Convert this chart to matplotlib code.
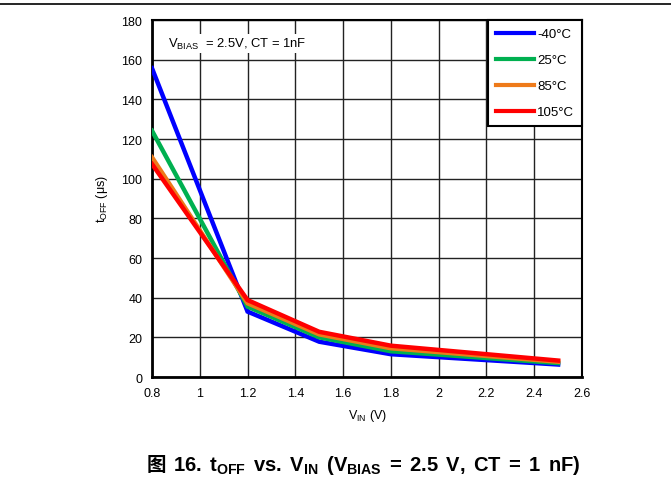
import matplotlib
matplotlib.use("Agg")
import matplotlib.pyplot as plt
from matplotlib.lines import Line2D

plt.rcParams['font.family'] = ['Liberation Sans', 'DejaVu Sans']
plt.rcParams['mathtext.fontset'] = 'custom'
plt.rcParams['mathtext.rm'] = 'Liberation Sans'
plt.rcParams['mathtext.bf'] = 'Liberation Sans:bold'
plt.rcParams['mathtext.it'] = 'Liberation Sans:italic'

# datos
v_in = [0.8, 1.2, 1.5, 1.8, 2.5]
t_menos40 = [155.7, 33.0, 17.8, 11.5, 6.3]
t_25 = [124.2, 35.5, 20.0, 13.0, 7.0]
t_85 = [110.8, 37.2, 21.5, 14.5, 7.7]
t_105 = [107.4, 38.8, 22.8, 15.8, 8.3]
etiquetas = ['-40°C', '25°C', '85°C', '105°C']
colores = ['#0000FF', '#00B050', '#EE7A1A', '#FF0000']
x_ticks = [0.8, 1.0, 1.2, 1.4, 1.6, 1.8, 2.0, 2.2, 2.4, 2.6]
y_ticks = [0, 20, 40, 60, 80, 100, 120, 140, 160, 180]

fig = plt.figure(figsize=(6.71, 4.81), dpi=100)
ax = fig.add_axes([0.2265, 0.2141, 0.6409, 0.7422])

series = [t_menos40, t_25, t_85, t_105]
for serie, etiqueta, color in zip(series, etiquetas, colores):
    ax.plot(v_in, serie, color=color, lw=3.2, label=etiqueta,
            solid_joinstyle='miter', zorder=3)

ax.set_xlim(0.8, 2.6)
ax.set_ylim(0, 180)
ax.set_xticks(x_ticks)
ax.set_yticks(y_ticks)
ax.set_xticklabels(['%g' % v for v in x_ticks])
ax.tick_params(length=0, labelsize=9, pad=7)
ax.grid(True, color='#222222', lw=1.0)
ax.set_axisbelow(True)
for lado in ['left', 'bottom']:
    ax.spines[lado].set_linewidth(2.0)
for lado in ['top', 'right']:
    ax.spines[lado].set_linewidth(1.5)

ax.set_xlabel(r'V$_{\mathrm{IN}}$ (V)', fontsize=9, labelpad=6)
ax.set_ylabel(r't$_{\mathrm{OFF}}$ (μs)', fontsize=9, labelpad=8)

ax.text(0.037, 0.955, r'V$_{\mathrm{BIAS}}$  = 2.5V, CT = 1nF', transform=ax.transAxes,
        fontsize=9.4, va='top', ha='left',
        bbox=dict(facecolor='white', edgecolor='none', pad=1.5))

leg = ax.legend(loc='upper right', fontsize=9.5, handlelength=2.9, handletextpad=0.25,
                labelspacing=1.05, borderaxespad=0, fancybox=False, framealpha=1,
                edgecolor='black', borderpad=0.6)
leg.get_frame().set_linewidth(1.5)
for linea in leg.get_lines():
    linea.set_linewidth(3.0)

# linea superior de la pagina
fig.add_artist(Line2D([0, 1], [1 - 4.5 / 481, 1 - 4.5 / 481], color='black', lw=1.2))

# titulo de la figura (espacio fino extra: el pdf original usa espaciado ancho)
y_base = 1 - 471 / 481
fig.text(147 / 671, y_base, '图', family=['Noto Sans CJK SC'], fontweight='bold',
         fontsize=14, va='baseline', ha='left')
fig.text(580 / 671, y_base,
         r'16.$\,$ t$_{\mathbf{OFF}}\,$ vs.$\,$ V$_{\mathbf{IN}}\,$ (V$_{\mathbf{BIAS}}\,$ '
         r'=$\,$ 2.5$\,$ V,$\,$ CT$\,$ =$\,$ 1$\,$ nF)',
         fontweight='bold', fontsize=14.5, va='baseline', ha='right')

plt.savefig('out.png', dpi=100)
plt.close()
